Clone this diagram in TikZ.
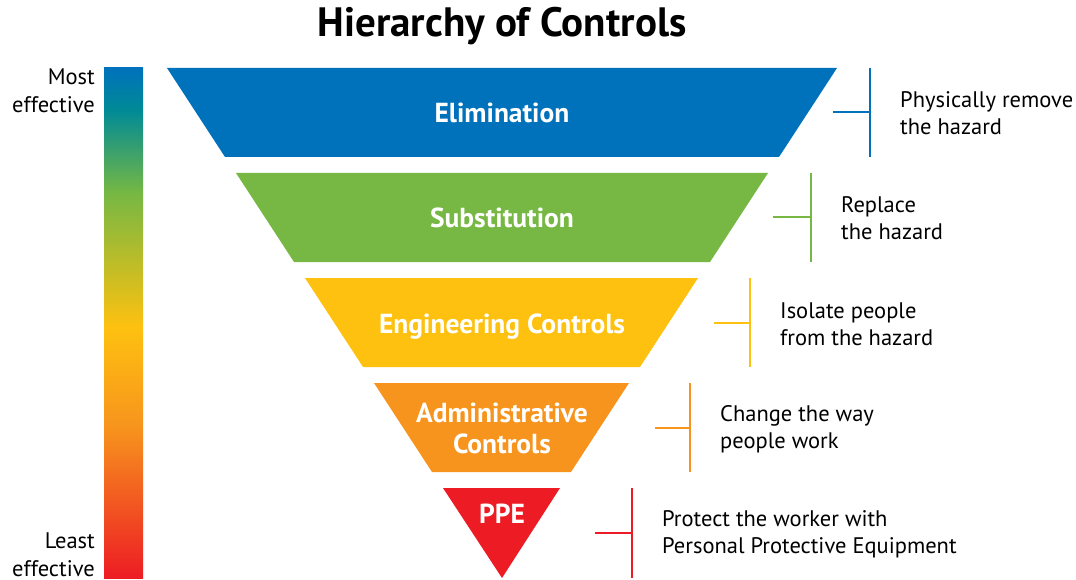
\documentclass[tikz,border=0pt]{standalone}
\usepackage{fontspec}
\setmainfont{PT Sans}
\usetikzlibrary{positioning}
\definecolor{elimblue}{RGB}{0,114,188}
\definecolor{tealmid}{RGB}{0,138,150}
\definecolor{subgreen}{RGB}{118,184,67}
\definecolor{engyellow}{RGB}{254,193,16}
\definecolor{adminorange}{RGB}{247,148,29}
\definecolor{ppered}{RGB}{237,28,36}
\pgfdeclareverticalshading{effectbar}{100bp}{color(0bp)=(ppered); color(25bp)=(ppered); color(39.8bp)=(adminorange); color(49.6bp)=(engyellow); color(62.7bp)=(subgreen); color(70.9bp)=(tealmid); color(75bp)=(elimblue); color(100bp)=(elimblue)}
\tikzset{levellabel/.style={text=white,font=\fontsize{27.5}{31}\selectfont\bfseries,align=center,inner sep=0pt},
         note/.style={align=left,font=\fontsize{22.5}{27}\selectfont,inner sep=0pt},
         effect/.style={align=right,font=\fontsize{22.5}{28}\selectfont,inner sep=0pt},
         bracket/.style={line width=1.3pt}}

\begin{document}
\begin{tikzpicture}[x=1pt,y=-1pt]
    \useasboundingbox (0,0) rectangle (1076,580);
    % Title
    \node (title) at (502,26) [font=\fontsize{41}{46}\selectfont\bfseries]{Hierarchy of Controls};
    % Effectiveness scale
    \shade[shading=effectbar] (104,68) rectangle (143,578);
    \node (most) at (95,91) [effect,anchor=east]{Most\\effective};
    \node (least) at (95,555) [effect,anchor=east]{Least\\effective};
    % Levels
    \fill[elimblue] (167,68) -- (837,68) -- (779,157) -- (225,157) -- cycle;
    \fill[subgreen] (236,173) -- (768,173) -- (710,262) -- (294,262) -- cycle;
    \fill[engyellow] (305,278) -- (698,278) -- (640,367) -- (363,367) -- cycle;
    \fill[adminorange] (374,383) -- (629,383) -- (571,472) -- (432,472) -- cycle;
    \fill[ppered] (443,488) -- (560,488) -- (502,578) -- cycle;
    \node (elim) at (502,123) [levellabel,anchor=base]{Elimination};
    \node (subst) at (502,228) [levellabel,anchor=base]{Substitution};
    \node (eng) at (502,333) [levellabel,anchor=base]{Engineering Controls};
    \node (admin) at (502,428) [levellabel]{Administrative\\Controls};
    \node (ppe) at (502,514) [levellabel]{PPE};
    % Bracket joints
    \coordinate (elimbr) at (870,112);
    \coordinate (substbr) at (811,217);
    \coordinate (engbr) at (750,323);
    \coordinate (adminbr) at (690,428);
    \coordinate (ppebr) at (632,533);
    % Notes
    \node (elimnote) [note,right=30pt of elimbr,yshift=-1pt]{Physically remove\\the hazard};
    \node (substnote) [note,right=30pt of substbr,yshift=-1pt]{Replace\\the hazard};
    \node (engnote) [note,right=30pt of engbr,yshift=-1pt]{Isolate people\\from the hazard};
    \node (adminnote) [note,right=30pt of adminbr,yshift=-1pt]{Change the way\\people work};
    \node (ppenote) [note,right=30pt of ppebr,yshift=-1pt]{Protect the worker with\\Personal Protective Equipment};
    % Brackets
    \draw[bracket,elimblue] ([xshift=-37pt]elimbr) -- (elimbr);
    \draw[bracket,elimblue] (elimbr |- 0,68) -- (elimbr |- 0,157);
    \draw[bracket,subgreen] ([xshift=-38pt]substbr) -- (substbr);
    \draw[bracket,subgreen] (substbr |- 0,173) -- (substbr |- 0,262);
    \draw[bracket,engyellow] ([xshift=-36pt]engbr) -- (engbr);
    \draw[bracket,engyellow] (engbr |- 0,278) -- (engbr |- 0,367);
    \draw[bracket,adminorange] ([xshift=-35pt]adminbr) -- (adminbr);
    \draw[bracket,adminorange] (adminbr |- 0,383) -- (adminbr |- 0,472);
    \draw[bracket,ppered] ([xshift=-37pt]ppebr) -- (ppebr);
    \draw[bracket,ppered] (ppebr |- 0,488) -- (ppebr |- 0,578);
\end{tikzpicture}
\end{document}
